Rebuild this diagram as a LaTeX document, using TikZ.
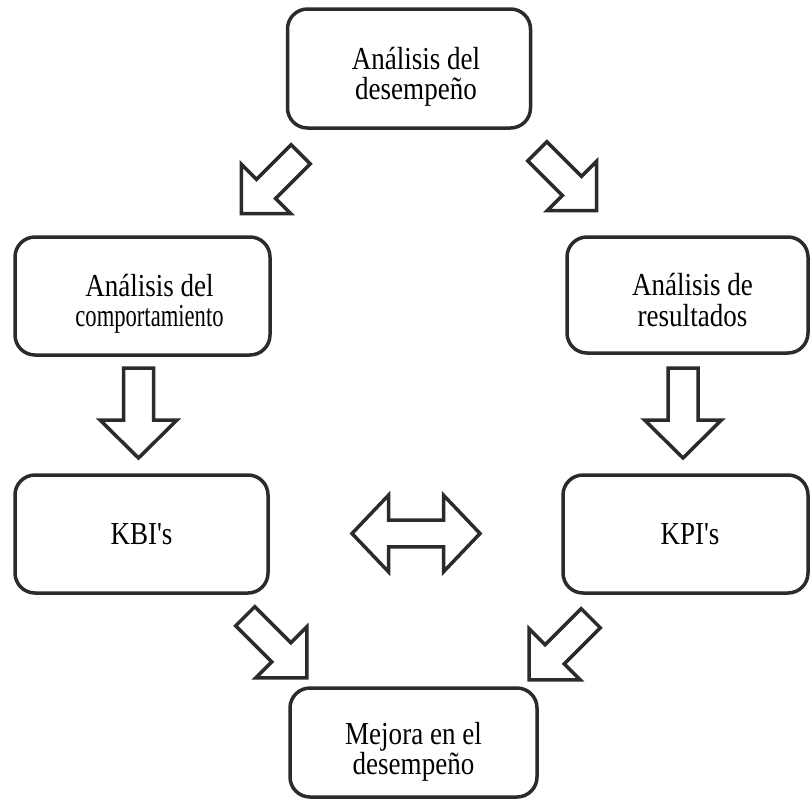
\documentclass[tikz,border=0pt]{standalone}
\usepackage{fontspec}
\setmainfont{Liberation Serif}[Ligatures=TeXOff]
% narrow, tall serif for the box texts
\newfontfamily\boxfont{Liberation Serif}[FakeStretch=0.845, Ligatures=TeXOff]
\definecolor{ink}{HTML}{2B2B2B}
\tikzset{
  box/.style={draw=ink, line width=3.5pt, rounded corners=20pt, inner sep=0pt},
  txt/.style={align=center, inner sep=0pt, text=black,
    font=\boxfont\fontsize{32}{30.5}\selectfont},
  arrowline/.style={draw=ink, line width=3.5pt, line join=miter, fill=white},
  % block arrow along +x, centred on the origin:
  % #1 total length, #2 head length, #3 head half width, #4 shaft half width
  pics/blockarrow/.style n args={4}{code={
    \path[arrowline] ({-#1/2},{-#4}) -- ({#1/2-#2},{-#4}) -- ({#1/2-#2},{-#3})
      -- ({#1/2},0) -- ({#1/2-#2},{#3}) -- ({#1/2-#2},{#4}) -- ({-#1/2},{#4}) -- cycle;
  }},
  % two-headed block arrow along x
  pics/doublearrow/.style n args={4}{code={
    \path[arrowline] ({-#1/2},0) -- ({-#1/2+#2},{-#3}) -- ({-#1/2+#2},{-#4})
      -- ({#1/2-#2},{-#4}) -- ({#1/2-#2},{-#3}) -- ({#1/2},0)
      -- ({#1/2-#2},{#3}) -- ({#1/2-#2},{#4}) -- ({-#1/2+#2},{#4})
      -- ({-#1/2+#2},{#3}) -- cycle;
  }}
}
\begin{document}
\begin{tikzpicture}[x=1pt, y=-1pt]
\useasboundingbox[fill=white] (0,0) rectangle (811,806);

% boxes
\node[box, minimum width=243pt, minimum height=119pt] (perf)  at (409,68.5) {};
\node[box, minimum width=255pt, minimum height=118pt] (behav) at (142.5,296) {};
\node[box, minimum width=241pt, minimum height=116pt] (res)   at (687.5,295) {};
\node[box, minimum width=253pt, minimum height=118pt] (kbi)   at (141.5,534) {};
\node[box, minimum width=245pt, minimum height=118pt] (kpi)   at (685.5,534) {};
\node[box, minimum width=247pt, minimum height=109pt] (impr)  at (413.5,742.5) {};

% box texts
\node[txt] (perf-t)  at ([xshift=7pt,yshift=-8.5pt]perf.center) {Análisis del\\desempeño};
\node[txt] (behav-t) at ([xshift=7pt,yshift=-8pt]behav.center)
  {Análisis del\\\scalebox{0.836}[1]{comportamiento}};
\node[txt] (res-t)   at ([xshift=5pt,yshift=-5pt]res.center) {Análisis de\\resultados};
\node[txt] (kbi-t)   at (kbi.center) {KBI's};
\node[txt] (kpi-t)   at ([xshift=4.5pt]kpi.center) {KPI's};
\node[txt] (impr-t)  at ([yshift=-9.5pt]impr.center) {Mejora en el\\desempeño};

% block arrows between the boxes
\pic[rotate=-135] (perf-behav) at (271,184) {blockarrow={84}{35}{35}{13.5}};
\pic[rotate=-45]  (perf-res)   at (567,181) {blockarrow={84}{35}{35}{13.5}};
\pic[rotate=-90]  (behav-kbi)  at (138.5,413) {blockarrow={90}{38}{38.5}{15}};
\pic[rotate=-90]  (res-kpi)    at (683,413) {blockarrow={90}{38}{38.5}{15}};
\pic (kbi-kpi) at (416,533.5) {doublearrow={128}{36.5}{38.3}{13.3}};
\pic[rotate=-45]  (kbi-impr)   at (276,647) {blockarrow={87}{36}{36}{13.5}};
\pic[rotate=-135] (kpi-impr)   at (560,649) {blockarrow={87}{36}{36}{13.5}};
\end{tikzpicture}
\end{document}
